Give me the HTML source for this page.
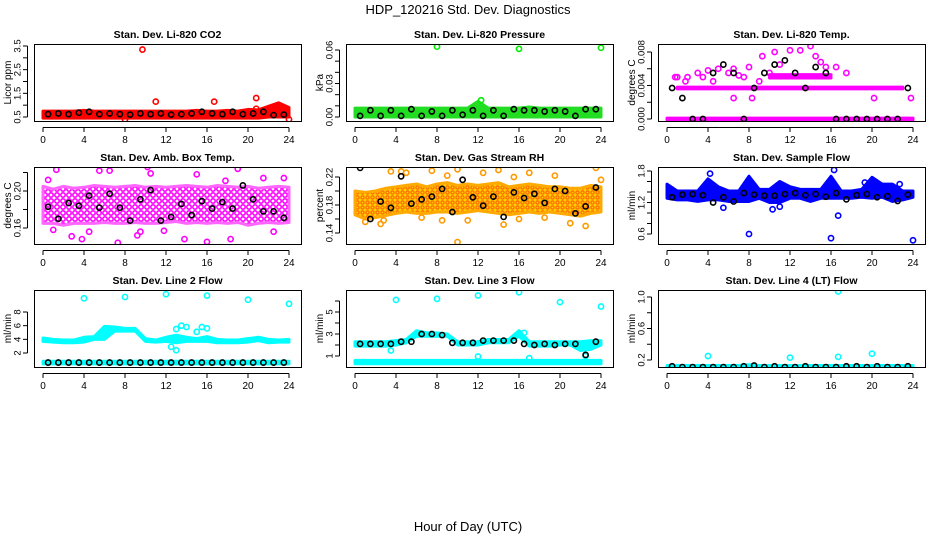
<!DOCTYPE html>
<html><head><meta charset="utf-8"><style>
html,body{margin:0;padding:0;background:#fff;}
svg{display:block;font-family:"Liberation Sans",sans-serif;}
</style></head><body>
<svg id="c" width="936" height="540" viewBox="0 0 936 540" xmlns="http://www.w3.org/2000/svg">
<defs>
<pattern id="pm" width="6" height="6" patternUnits="userSpaceOnUse"><rect width="6" height="6" fill="#fff"/><circle cx="3" cy="3" r="2.2" fill="none" stroke="#ff00ff" stroke-width="1.6"/></pattern>
<pattern id="po" width="5" height="5" patternUnits="userSpaceOnUse"><rect width="5" height="5" fill="#ffcc00"/><circle cx="2.5" cy="2.5" r="1.6" fill="none" stroke="#ff6600" stroke-width="1.2"/></pattern>
</defs>
<text x="468" y="14" font-size="13" text-anchor="middle">HDP_120216  Std. Dev. Diagnostics</text>
<text x="468" y="531" font-size="13" text-anchor="middle">Hour of Day (UTC)</text>
</svg>
<script>
// shared hours
const H = [0,1,2,3,4,5,6,7,8,9,10,11,12,13,14,15,16,17,18,19,20,21,22,23,24];
const BH = [0.5,1.5,2.5,3.5,4.5,5.5,6.5,7.5,8.5,9.5,10.5,11.5,12.5,13.5,14.5,15.5,16.5,17.5,18.5,19.5,20.5,21.5,22.5,23.5];
const xTicks = [0,4,8,12,16,20,24];

// Panel 1: CO2
const co2Lo = [0.45,0.45,0.45,0.45,0.45,0.45,0.45,0.45,0.45,0.45,0.45,0.45,0.45,0.45,0.45,0.45,0.45,0.45,0.45,0.45,0.45,0.45,0.5,0.5,0.5];
const co2Hi = [0.75,0.75,0.75,0.75,0.78,0.75,0.75,0.75,0.75,0.75,0.75,0.75,0.75,0.75,0.75,0.78,0.75,0.75,0.78,0.75,0.82,0.8,0.95,1.1,0.9];
const co2OutX = [9.7,11,16.7,20.8,20.8,8,24];
const co2OutY = [3.35,1.15,1.15,1.3,0.85,0.4,0.4];
const co2Black = [0.62,0.65,0.62,0.68,0.72,0.62,0.65,0.62,0.6,0.65,0.62,0.65,0.6,0.62,0.65,0.72,0.65,0.62,0.72,0.62,0.65,0.72,0.58,0.6];
const co2Ticks = [0.5,1,1.5,2,2.5,3,3.5];
const co2Labels = ['0.5','1.5','2.5','3.5'];

// Panel 2: Pressure
const prLo = [0,0,0,0,0,0,0,0,0,0,0,0,0,0,0,0,0,0,0,0,0,0,0,0,0];
const prHi = [0.008,0.008,0.008,0.008,0.008,0.008,0.008,0.008,0.008,0.008,0.008,0.008,0.014,0.008,0.008,0.008,0.008,0.009,0.008,0.008,0.008,0.008,0.008,0.008,0.008];
const prOutX = [8,16,24,12.3];
const prOutY = [0.063,0.061,0.062,0.015];
const prBlack = [0.001,0.006,0.001,0.006,0.001,0.007,0.001,0.005,0.001,0.006,0.002,0.006,0.001,0.006,0.001,0.007,0.006,0.006,0.005,0.006,0.005,0.001,0.007,0.007];
const prTicks = [0,0.01,0.02,0.03,0.04,0.05,0.06];
const prLabels = ['0.00','0.03','0.06'];

// Panel 3: Temp
const tmLo = [-0.0001,-0.0001,-0.0001,-0.0001,-0.0001,-0.0001,-0.0001,-0.0001,-0.0001,-0.0001,-0.0001,-0.0001,-0.0001,-0.0001,-0.0001,-0.0001,-0.0001,-0.0001,-0.0001,-0.0001,-0.0001,-0.0001,-0.0001,-0.0001,-0.0001];
const tmHi = [0.0001,0.0001,0.0001,0.0001,0.0001,0.0001,0.0001,0.0001,0.0001,0.0001,0.0001,0.0001,0.0001,0.0001,0.0001,0.0001,0.0001,0.0001,0.0001,0.0001,0.0001,0.0001,0.0001,0.0001,0.0001];
const tm2Lo = [null,0.0036,0.0036,0.0036,0.0036,0.0036,0.0036,0.0036,0.0036,0.0036,0.0036,0.0036,0.0036,0.0036,0.0036,0.0036,0.0036,0.0036,0.0036,0.0036,0.0036,0.0036,0.0036,0.0036,null];
const tm2Hi = [null,0.0038,0.0038,0.0038,0.0038,0.0038,0.0038,0.0038,0.0038,0.0038,0.0038,0.0038,0.0038,0.0038,0.0038,0.0038,0.0038,0.0038,0.0038,0.0038,0.0038,0.0038,0.0038,0.0038,null];
const tm3Lo = [null,null,null,null,null,null,null,null,null,null,0.0049,0.0049,0.0049,0.0049,0.0049,0.0049,0.0049,null,null,null,null,null,null,null,null];
const tm3Hi = [null,null,null,null,null,null,null,null,null,null,0.0053,0.0053,0.0053,0.0053,0.0053,0.0053,0.0053,null,null,null,null,null,null,null,null];
const tmOutX = [0.8,1,2,3,3.5,4,4.5,5,6,6.5,7,6.5,8,8.3,9.3,10.5,11,12,13,14,14.5,15,15.5,16.5,17.5,20.2,23.8,1.8,7.5,9,10];
const tmOutY = [0.005,0.005,0.005,0.0055,0.005,0.0058,0.0045,0.006,0.0055,0.006,0.0052,0.0025,0.0062,0.0025,0.0075,0.008,0.0065,0.0082,0.0082,0.0087,0.0075,0.0068,0.0062,0.0062,0.0055,0.0025,0.0025,0.0045,0.005,0.0045,0.0055];
const tmBlack = [0.0037,0.0025,0,0,0.0055,0.0065,0.0055,0,0.0037,0.0055,0.0065,0.007,0.0055,0.0037,0.0062,0.0055,0,0,0,0,0,0,0,0.0037];
const tmTicks = [0,0.002,0.004,0.006,0.008];
const tmLabels = ['0.000','0.004','0.008'];

// Panel 4: Amb box temp
const abLo = [0.165,0.165,0.163,0.165,0.165,0.165,0.166,0.165,0.165,0.166,0.165,0.165,0.166,0.167,0.165,0.166,0.165,0.166,0.165,0.166,0.163,0.165,0.166,0.165,0.166];
const abHi = [0.205,0.202,0.205,0.203,0.204,0.206,0.205,0.204,0.205,0.206,0.204,0.205,0.204,0.205,0.206,0.205,0.204,0.206,0.205,0.204,0.205,0.203,0.204,0.205,0.204];
const abOutX = [0.5,1.3,2.8,3.8,5.5,6.5,7.3,9.2,10.2,10.5,13.8,15,16,18.3,19,22.5,23.5,1,4.5,9.5,11.8,17.8,21.5];
const abOutY = [0.212,0.223,0.151,0.148,0.222,0.222,0.144,0.152,0.226,0.219,0.148,0.218,0.145,0.148,0.224,0.156,0.214,0.158,0.156,0.156,0.157,0.211,0.214];
const abBlack = [0.183,0.170,0.187,0.184,0.195,0.182,0.197,0.182,0.168,0.191,0.201,0.168,0.172,0.186,0.174,0.189,0.181,0.188,0.181,0.206,0.191,0.178,0.178,0.171];
const abTicks = [0.16,0.18,0.2,0.22];
const abLabels = ['0.16','0.20'];

// Panel 5: Gas stream RH
const rhLo = [0.166,0.160,0.162,0.165,0.168,0.170,0.168,0.168,0.170,0.170,0.168,0.170,0.172,0.170,0.168,0.166,0.168,0.170,0.168,0.170,0.168,0.166,0.164,0.168,0.170];
const rhHi = [0.200,0.198,0.200,0.204,0.206,0.208,0.210,0.206,0.210,0.212,0.208,0.210,0.208,0.210,0.212,0.206,0.208,0.210,0.208,0.206,0.206,0.204,0.204,0.208,0.206];
const rhOutX = [1,2.5,3.5,4.5,5,6.5,7.5,8.5,10,11,12.5,14,14.5,15.5,16,17,18.5,19.5,21,22.5,23.5,24,10,2.8,9];
const rhOutY = [0.156,0.153,0.228,0.228,0.226,0.162,0.229,0.158,0.231,0.158,0.226,0.230,0.152,0.220,0.160,0.226,0.162,0.222,0.154,0.150,0.233,0.216,0.127,0.158,0.222];
const rhBlack = [0.233,0.160,0.185,0.176,0.221,0.182,0.188,0.192,0.203,0.170,0.216,0.191,0.179,0.192,0.163,0.198,0.190,0.196,0.183,0.203,0.200,0.168,0.178,0.205];
const rhTicks = [0.14,0.16,0.18,0.2,0.22];
const rhLabels = ['0.14','0.18','0.22'];

// Panel 6: Sample flow
const sfLo = [1.28,1.25,1.25,1.22,1.25,1.25,1.22,1.22,1.22,1.28,1.2,1.2,1.28,1.28,1.22,1.28,1.28,1.28,1.28,1.3,1.28,1.3,1.22,1.25,1.3];
const sfHi = [1.55,1.42,1.42,1.42,1.65,1.5,1.42,1.42,1.7,1.45,1.45,1.6,1.5,1.45,1.45,1.45,1.7,1.42,1.42,1.45,1.68,1.55,1.55,1.42,1.42];
const sfOutX = [8,16,24,16.7,5.5,10.3,4.2,11,19.3,22.7,16.3];
const sfOutY = [0.6,0.52,0.48,0.95,1.1,1.07,1.75,1.12,1.58,1.55,1.82];
const sfBlack = [1.3,1.35,1.36,1.34,1.2,1.3,1.22,1.38,1.35,1.33,1.33,1.36,1.38,1.34,1.36,1.31,1.38,1.26,1.34,1.36,1.3,1.32,1.23,1.35];
const sfTicks = [0.6,0.8,1,1.2,1.4,1.6,1.8];
const sfLabels = ['0.6','1.2','1.8'];

// Panel 7: Line 2 flow
const l2Lo = [3.7,3.6,3.5,3.5,3.6,4.0,4.0,5.2,5.2,5.2,3.7,3.6,3.7,3.5,3.7,3.7,3.7,3.5,3.5,3.5,3.6,3.8,3.5,3.6,3.6];
const l2Hi = [4.2,4.0,3.9,3.9,4.3,4.4,5.9,5.8,5.6,5.6,4.1,3.9,4.3,4.6,4.3,4.1,4.4,4.0,3.9,3.9,4.1,4.3,4.0,3.9,4.0];
const l2bLo = [0.4,0.4,0.4,0.4,0.4,0.4,0.4,0.4,0.4,0.4,0.4,0.4,0.4,0.4,0.4,0.4,0.4,0.4,0.4,0.4,0.4,0.4,0.4,0.4,0.4];
const l2bHi = [0.8,0.8,0.8,0.8,0.8,0.8,0.8,0.8,0.8,0.8,0.8,0.8,0.8,0.8,0.8,0.8,0.8,0.8,0.8,0.8,0.8,0.8,0.8,0.8,0.8];
const l2OutX = [4,8,12,16,20,24,12.5,13,13,13.5,14,15.5,16,15];
const l2OutY = [10,10.2,10.6,10.4,9.8,9.2,2.9,2.4,5.5,6,5.8,5.8,5.6,5.1];
const l2Black = [0.6,0.6,0.6,0.6,0.6,0.6,0.6,0.6,0.6,0.6,0.6,0.6,0.6,0.6,0.6,0.6,0.6,0.6,0.6,0.6,0.6,0.6,0.6,0.6];
const l2Ticks = [2,4,6,8];
const l2Labels = ['2','4','6','8'];

// Panel 8: Line 3 flow
const l3Lo = [1.9,1.9,1.9,1.9,2.0,2.2,2.8,2.8,2.8,2.8,2.0,2.0,2.0,2.2,2.2,2.2,2.8,1.9,1.9,1.9,2.0,2.0,1.5,1.6,2.0];
const l3Hi = [2.3,2.3,2.3,2.3,2.4,2.5,3.3,3.1,3.1,3.0,2.3,2.3,2.3,2.5,2.5,2.5,3.3,2.3,2.3,2.3,2.3,2.3,2.3,2.4,2.4];
const l3bLo = [0.3,0.3,0.3,0.3,0.3,0.3,0.3,0.3,0.3,0.3,0.3,0.3,0.3,0.3,0.3,0.3,0.3,0.3,0.3,0.3,0.3,0.3,0.3,0.3,0.3];
const l3bHi = [0.6,0.6,0.6,0.6,0.6,0.6,0.6,0.6,0.6,0.6,0.6,0.6,0.6,0.6,0.6,0.6,0.6,0.6,0.6,0.6,0.6,0.6,0.6,0.6,0.6];
const l3OutX = [4,8,12,16,20,24,3.5,12,17,22.5,16.5];
const l3OutY = [6.1,6.2,6.5,6.8,5.9,5.5,1.5,0.95,0.8,1.0,3.1];
const l3Black = [2.1,2.1,2.1,2.1,2.3,2.3,3.0,3.0,2.9,2.2,2.2,2.2,2.4,2.4,2.4,2.4,2.1,2.0,2.1,2.0,2.1,2.1,1.1,2.3];
const l3Ticks = [1,2,3,4,5,6];
const l3Labels = ['1','','3','','5',''];

// Panel 9: Line 4 flow
const l4Lo = [0.08,0.08,0.08,0.08,0.08,0.08,0.08,0.08,0.08,0.08,0.08,0.08,0.08,0.08,0.08,0.08,0.08,0.08,0.08,0.08,0.08,0.08,0.08,0.08,0.08];
const l4Hi = [0.13,0.13,0.13,0.13,0.13,0.13,0.13,0.13,0.14,0.13,0.13,0.13,0.13,0.13,0.13,0.13,0.13,0.13,0.13,0.13,0.13,0.13,0.13,0.13,0.13];
const l4OutX = [4,12,16.7,16.7,20];
const l4OutY = [0.25,0.23,1.07,0.24,0.28];
const l4Black = [0.12,0.11,0.11,0.11,0.11,0.11,0.11,0.12,0.13,0.11,0.12,0.11,0.11,0.12,0.11,0.11,0.11,0.12,0.12,0.11,0.12,0.11,0.11,0.12];
const l4Ticks = [0.2,0.4,0.6,0.8,1.0];
const l4Labels = ['0.2','','0.6','','1.0'];

const NS = 'http://www.w3.org/2000/svg';
const svg = document.getElementById('c');
function el(tag, attrs, parent){const e=document.createElementNS(NS,tag);for(const k in attrs)e.setAttribute(k,attrs[k]);(parent||svg).appendChild(e);return e;}

const COLX = [34,346,658];
const ROWY = [44,167,290];
const BW = 267, BH_ = 77;

function panel(o){
  const bx = COLX[o.col], by = ROWY[o.row];
  const g = el('g',{});
  
  
  const x0 = bx + 9, x1 = bx + 255;
  const xs = h => x0 + (h/24)*(x1-x0);
  const ys = v => o.py0 + (v - o.v0)/(o.v1 - o.v0)*(o.py1 - o.py0);
  const clip = 'clip'+o.name;
  const cp = el('clipPath',{id:clip},g); el('rect',{x:bx,y:by,width:BW,height:BH_},cp);
  const plot = el('g',{'clip-path':'url(#'+clip+')'},g);
  o.bands.forEach(b=>{
    let seg=[];
    const flush=()=>{ if(seg.length>1){
      const top=seg.map(i=>xs(H[i])+','+ys(b.hi[i])).join(' ');
      const bot=seg.slice().reverse().map(i=>xs(H[i])+','+ys(b.lo[i])).join(' ');
      const p=el('polygon',{points:top+' '+bot,fill:b.fill,stroke:b.stroke,'stroke-width':3,'stroke-linejoin':'round'},plot);
      
      
    } seg=[]; };
    H.forEach((h,i)=>{ if(b.lo[i]===null) flush(); else seg.push(i); }); flush();
  });
  o.outX.forEach((h,i)=>{
    const c=el('circle',{cx:xs(h),cy:ys(o.outY[i]),r:2.6,fill:'none',stroke:o.color,'stroke-width':1.6},plot);
    
    
  });
  BH.forEach((h,i)=>{
    const c=el('circle',{cx:xs(h),cy:ys(o.black[i]),r:2.6,fill:'none',stroke:'#000','stroke-width':1.6},plot);
    
    
  });
  el('rect',{x:bx+0.5,y:by+0.5,width:BW,height:BH_,fill:'none',stroke:'#000','stroke-width':1},g);
  const t=el('text',{x:bx+BW/2,y:by-6,'font-size':10.5,'font-weight':'bold','text-anchor':'middle'},g);
  t.textContent=o.title;
  
  
  el('line',{x1:xs(0),x2:xs(24),y1:by+BH_+6.5,y2:by+BH_+6.5,stroke:'#000'},g);
  xTicks.forEach(h=>{
    el('line',{x1:xs(h),x2:xs(h),y1:by+BH_+6.5,y2:by+BH_+11,stroke:'#000'},g);
    const l=el('text',{x:xs(h),y:by+BH_+22,'font-size':10,'text-anchor':'middle'},g);
    l.textContent=h;
    
    
  });
  const ax=bx-6.5;
  el('line',{x1:ax,x2:ax,y1:ys(o.ticks[0]),y2:ys(o.ticks[o.ticks.length-1]),stroke:'#000'},g);
  o.ticks.forEach((v,i)=>{
    el('line',{x1:ax-4.5,x2:ax,y1:ys(v),y2:ys(v),stroke:'#000'},g);
  });
  o.labels.forEach((lab,i)=>{
    if(!lab) return;
    const v=parseFloat(lab);
    const l=el('text',{x:0,y:0,'font-size':9.5,'text-anchor':'middle',transform:'translate('+(ax-7)+','+ys(v)+') rotate(-90)'},g);
    l.textContent=lab;
    
    
  });
  const yl=el('text',{x:0,y:0,'font-size':10,'text-anchor':'middle',transform:'translate('+(bx-23)+','+(by+BH_/2)+') rotate(-90)'},g);
  yl.textContent=o.ylab;
  
  
}

panel({name:'co2-panel',col:0,row:0,title:'Stan. Dev. Li-820 CO2',ylab:'Licor ppm',v0:0.5,v1:3.5,py0:117,py1:46,ticks:co2Ticks,labels:co2Labels,color:'#ff0000',
  bands:[{lo:co2Lo,hi:co2Hi,fill:'#ff0000',stroke:'#ff0000'}],outX:co2OutX,outY:co2OutY,black:co2Black});
panel({name:'pressure-panel',col:1,row:0,title:'Stan. Dev. Li-820 Pressure',ylab:'kPa',v0:0,v1:0.06,py0:117,py1:50,ticks:prTicks,labels:prLabels,color:'#00ee00',
  bands:[{lo:prLo,hi:prHi,fill:'#22dd22',stroke:'#22dd22'}],outX:prOutX,outY:prOutY,black:prBlack});
panel({name:'temp-panel',col:2,row:0,title:'Stan. Dev. Li-820 Temp.',ylab:'degrees C',v0:0,v1:0.008,py0:119,py1:52,ticks:tmTicks,labels:tmLabels,color:'#ff00ff',
  bands:[{lo:tmLo,hi:tmHi,fill:'#ff00ff',stroke:'#ff00ff'},{lo:tm2Lo,hi:tm2Hi,fill:'#ff00ff',stroke:'#ff00ff'},{lo:tm3Lo,hi:tm3Hi,fill:'#ff00ff',stroke:'#ff00ff'}],outX:tmOutX,outY:tmOutY,black:tmBlack});
panel({name:'amb-box-temp-panel',col:0,row:1,title:'Stan. Dev. Amb. Box Temp.',ylab:'degrees C',v0:0.16,v1:0.20,py0:228,py1:191,ticks:abTicks,labels:abLabels,color:'#ff00ff',
  bands:[{lo:abLo,hi:abHi,fill:'url(#pm)',stroke:'#ff66ff'}],outX:abOutX,outY:abOutY,black:abBlack});
panel({name:'gas-rh-panel',col:1,row:1,title:'Stan. Dev. Gas Stream RH',ylab:'percent',v0:0.14,v1:0.22,py0:233,py1:177,ticks:rhTicks,labels:rhLabels,color:'#ff9900',
  bands:[{lo:rhLo,hi:rhHi,fill:'url(#po)',stroke:'#ffaa00'}],outX:rhOutX,outY:rhOutY,black:rhBlack});
panel({name:'sample-flow-panel',col:2,row:1,title:'Stan. Dev. Sample Flow',ylab:'ml/min',v0:0.6,v1:1.8,py0:234,py1:171,ticks:sfTicks,labels:sfLabels,color:'#0000ff',
  bands:[{lo:sfLo,hi:sfHi,fill:'#0000ff',stroke:'#0000ff'}],outX:sfOutX,outY:sfOutY,black:sfBlack});
panel({name:'line2-flow-panel',col:0,row:2,title:'Stan. Dev. Line 2 Flow',ylab:'ml/min',v0:2,v1:8,py0:353,py1:312,ticks:l2Ticks,labels:l2Labels,color:'#00ffff',
  bands:[{lo:l2Lo,hi:l2Hi,fill:'#00ffff',stroke:'#00ffff'},{lo:l2bLo,hi:l2bHi,fill:'#00ffff',stroke:'#00ffff'}],outX:l2OutX,outY:l2OutY,black:l2Black});
panel({name:'line3-flow-panel',col:1,row:2,title:'Stan. Dev. Line 3 Flow',ylab:'ml/min',v0:1,v1:5,py0:356,py1:312,ticks:l3Ticks,labels:l3Labels,color:'#00ffff',
  bands:[{lo:l3Lo,hi:l3Hi,fill:'#00ffff',stroke:'#00ffff'},{lo:l3bLo,hi:l3bHi,fill:'#00ffff',stroke:'#00ffff'}],outX:l3OutX,outY:l3OutY,black:l3Black});
panel({name:'line4-flow-panel',col:2,row:2,title:'Stan. Dev. Line 4 (LT) Flow',ylab:'ml/min',v0:0.2,v1:1.0,py0:360,py1:297,ticks:l4Ticks,labels:l4Labels,color:'#00ffff',
  bands:[{lo:l4Lo,hi:l4Hi,fill:'#00ffff',stroke:'#00ffff'}],outX:l4OutX,outY:l4OutY,black:l4Black});
</script>
</body></html>
